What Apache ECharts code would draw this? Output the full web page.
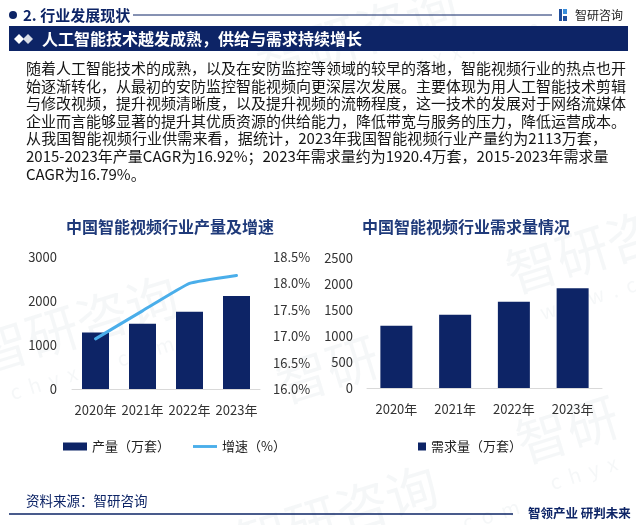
<!DOCTYPE html>
<html>
<head>
<meta charset="utf-8">
<script src="https://cdn.jsdelivr.net/npm/echarts@6/dist/echarts.min.js"></script>
<style>
html,body{margin:0;padding:0;background:#fff;}
#wrap{position:relative;width:636px;height:525px;overflow:hidden;}
#chart{position:absolute;left:0;top:0;width:636px;height:525px;}
#para{position:absolute;left:26px;top:59px;width:581px;font-family:"Noto Sans CJK SC","Noto Sans",sans-serif;font-size:15px;line-height:17.6px;color:#151515;}
#para div{text-align:justify;text-align-last:justify;white-space:nowrap;}
#para div.last{text-align-last:left;}
</style>
</head>
<body>
<div id="wrap">
<div id="chart"></div>
<div id="para">
<div>随着人工智能技术的成熟，以及在安防监控等领域的较早的落地，智能视频行业的热点也开</div>
<div>始逐渐转化，从最初的安防监控智能视频向更深层次发展。主要体现为用人工智能技术剪辑</div>
<div>与修改视频，提升视频清晰度，以及提升视频的流畅程度，这一技术的发展对于网络流媒体</div>
<div>企业而言能够显著的提升其优质资源的供给能力，降低带宽与服务的压力，降低运营成本。</div>
<div>从我国智能视频行业供需来看，据统计，2023年我国智能视频行业产量约为2113万套，</div>
<div>2015-2023年产量CAGR为16.92%；2023年需求量约为1920.4万套，2015-2023年需求量</div>
<div class="last">CAGR为16.79%。</div>
</div>
</div>
<script>
var years = ['2020年', '2021年', '2022年', '2023年'];
var output = [1283, 1481, 1754, 2113];
var growth = [16.95, 17.48, 18.0, 18.15];
var demand = [1199, 1410, 1660, 1920.4];

var NAVY = '#0d2466';
var FONT = 'Noto Sans CJK SC';
var chart = echarts.init(document.getElementById('chart'), null, {renderer: 'canvas'});

function wm(x, y, big, small, rot) {
  return {
    type: 'group', x: x, y: y, rotation: rot, silent: true, z: 0,
    children: [
      {type: 'text', style: {text: big, x: 0, y: 0, fill: 'rgba(120,135,160,0.07)', font: '52px ' + FONT}},
      {type: 'text', style: {text: small, x: 20, y: 62, fill: 'rgba(120,135,160,0.07)', font: '20px ' + FONT}}
    ]
  };
}
function plain(v) { return String(v); }

var option = {
  animation: false,
  textStyle: {fontFamily: FONT},
  graphic: [
    wm(-30, 330, '智研咨询', 'c  h  y  x  x  .  c  o  m', 0.3),
    wm(250, 40, '智研咨询', 'w  w  w  .  c  h  y  x  x  .  c  o  m', 0.3),
    wm(500, 250, '智研咨询', 'w  w  w  .  c  h  y  x  x', 0.3),
    wm(230, 520, '智研咨询', 'w  w  w  .  c  h  y  x  x  .  c  o  m', 0.3),
    wm(270, 360, '智研', '', 0.3),
    wm(510, 420, '智研', 'c  h  y  x', 0.3),
    {type: 'circle', shape: {cx: 13, cy: 15, r: 4}, style: {fill: NAVY}},
    {type: 'text', style: {text: '2. 行业发展现状', x: 23, y: 15, verticalAlign: 'middle', fill: NAVY, font: 'bold 15px ' + FONT}},
    {type: 'line', shape: {x1: 133, y1: 15, x2: 552, y2: 15}, style: {stroke: NAVY, lineWidth: 1}},
    {type: 'rect', shape: {x: 559, y: 9, width: 3, height: 12}, style: {fill: '#1f4e9c'}},
    {type: 'rect', shape: {x: 563, y: 9, width: 4, height: 5}, style: {fill: '#3a8fdc'}},
    {type: 'rect', shape: {x: 563, y: 16, width: 4, height: 5}, style: {fill: '#1f4e9c'}},
    {type: 'text', style: {text: '智研咨询', x: 575, y: 15, verticalAlign: 'middle', fill: '#222', font: '12px ' + FONT}},
    {type: 'rect', shape: {x: 9, y: 26, width: 619, height: 25}, style: {fill: NAVY}},
    {type: 'polygon', shape: {points: [[19, 34], [24, 39], [19, 44], [14, 39]]}, style: {fill: '#ffffff'}},
    {type: 'polygon', shape: {points: [[28, 34], [33, 39], [28, 44], [23, 39]]}, style: {fill: '#d8dce6'}},
    {type: 'text', style: {text: '人工智能技术越发成熟，供给与需求持续增长', x: 42, y: 39, verticalAlign: 'middle', fill: '#fff', font: 'bold 16px ' + FONT}},
    {type: 'text', style: {text: '中国智能视频行业产量及增速', x: 170, y: 227, align: 'center', verticalAlign: 'middle', fill: '#1f3a7a', font: 'bold 16px ' + FONT}},
    {type: 'text', style: {text: '中国智能视频行业需求量情况', x: 466, y: 227, align: 'center', verticalAlign: 'middle', fill: '#1f3a7a', font: 'bold 16px ' + FONT}},
    {type: 'text', style: {text: '资料来源：智研咨询', x: 26, y: 501, verticalAlign: 'middle', fill: NAVY, font: '13.5px ' + FONT}},
    {type: 'line', shape: {x1: 9, y1: 514, x2: 513, y2: 514}, style: {stroke: NAVY, lineWidth: 1.5}},
    {type: 'text', style: {text: '智领产业 研判未来', x: 528, y: 513, verticalAlign: 'middle', fill: NAVY, font: 'bold 12.5px ' + FONT}}
  ],
  legend: [
    {
      left: 58, top: 435, itemWidth: 24, itemHeight: 8, itemGap: 23,
      textStyle: {fontSize: 13, color: '#222', fontFamily: FONT},
      data: [
        {name: '产量（万套）', icon: 'rect'},
        {name: '增速（%）', icon: 'path://M0,0 L25,0 L25,3 L0,3 Z'}
      ]
    },
    {
      left: 413, top: 435, itemWidth: 8, itemHeight: 8,
      textStyle: {fontSize: 13, color: '#222', fontFamily: FONT},
      data: [{name: '需求量（万套）', icon: 'rect'}]
    }
  ],
  grid: [
    {left: 72, right: 376, top: 257, bottom: 136},
    {left: 367, right: 34, top: 258, bottom: 137}
  ],
  xAxis: [
    {
      type: 'category', gridIndex: 0, data: years,
      axisLine: {lineStyle: {color: '#d9d9d9'}}, axisTick: {show: false},
      axisLabel: {margin: 15, fontSize: 13, color: '#333', interval: 0}
    },
    {
      type: 'category', gridIndex: 1, data: years,
      axisLine: {lineStyle: {color: '#d9d9d9'}}, axisTick: {show: false},
      axisLabel: {margin: 15, fontSize: 13, color: '#333', interval: 0}
    }
  ],
  yAxis: [
    {
      type: 'value', gridIndex: 0, min: 0, max: 3000, interval: 1000,
      splitLine: {show: false}, axisLine: {show: false}, axisTick: {show: false},
      axisLabel: {margin: 15, fontSize: 13, color: '#333', formatter: plain}
    },
    {
      type: 'value', gridIndex: 0, position: 'right', min: 16, max: 18.5, interval: 0.5,
      splitLine: {show: false}, axisLine: {show: false}, axisTick: {show: false},
      axisLabel: {margin: 13, fontSize: 13, color: '#333', formatter: function (v) { return v.toFixed(1) + '%'; }}
    },
    {
      type: 'value', gridIndex: 1, min: 0, max: 2500, interval: 500,
      splitLine: {show: false}, axisLine: {show: false}, axisTick: {show: false},
      axisLabel: {margin: 14, fontSize: 13, color: '#333', formatter: plain}
    }
  ],
  series: [
    {
      name: '产量（万套）', type: 'bar', xAxisIndex: 0, yAxisIndex: 0,
      data: output, barWidth: 27, itemStyle: {color: NAVY}
    },
    {
      name: '增速（%）', type: 'line', xAxisIndex: 0, yAxisIndex: 1,
      data: growth, smooth: 0.12, showSymbol: false, symbol: 'none',
      lineStyle: {color: '#4aaeea', width: 3, cap: 'round'}, itemStyle: {color: '#4aaeea'}
    },
    {
      name: '需求量（万套）', type: 'bar', xAxisIndex: 1, yAxisIndex: 2,
      data: demand, barWidth: 32, itemStyle: {color: NAVY}
    }
  ]
};
chart.setOption(option);
</script>
</body>
</html>
